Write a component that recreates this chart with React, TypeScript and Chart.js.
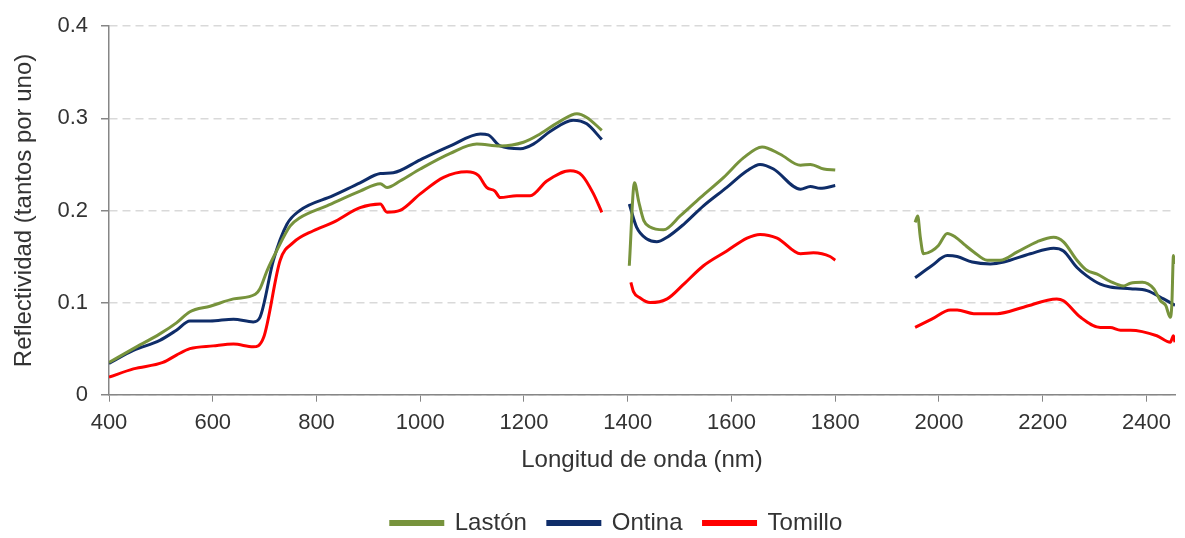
import React, { useEffect, useRef } from 'react';
import { Chart, registerables } from 'chart.js';

Chart.register(...registerables);

// Wavelength (nm) and reflectance values; null breaks the line (absorption bands removed)
const lastonNm = [400, 447, 498, 530, 556, 595, 640, 682, 691, 705, 723, 749, 768, 820, 884, 923, 936, 961, 1000, 1058, 1109, 1154, 1199, 1231, 1270, 1302, 1321, 1350,
  1375,
  1403, 1413, 1421, 1431, 1443, 1469, 1501, 1540, 1585, 1623, 1659, 1694, 1733, 1752, 1778, 1800,
  1875,
  1954, 1959, 1964, 1970, 1986, 1999, 2016, 2032, 2051, 2067, 2093, 2118, 2151, 2189, 2221, 2240, 2266, 2285, 2305, 2330, 2356, 2369, 2392, 2414, 2427, 2437, 2446, 2449, 2452, 2455];
const lastonR = [0.035, 0.050, 0.066, 0.078, 0.090, 0.096, 0.104, 0.109, 0.115, 0.135, 0.156, 0.183, 0.192, 0.205, 0.221, 0.229, 0.225, 0.232, 0.245, 0.262, 0.272, 0.270, 0.274, 0.283, 0.297, 0.305, 0.301, 0.287,
  null,
  0.140, 0.230, 0.210, 0.189, 0.182, 0.179, 0.194, 0.214, 0.236, 0.257, 0.269, 0.261, 0.249, 0.250, 0.245, 0.244,
  null,
  0.187, 0.194, 0.171, 0.153, 0.156, 0.162, 0.175, 0.171, 0.162, 0.155, 0.146, 0.146, 0.155, 0.166, 0.171, 0.166, 0.146, 0.135, 0.131, 0.123, 0.118, 0.121, 0.122, 0.115, 0.102, 0.097, 0.084, 0.099, 0.151, 0.142];

const ontinaNm = [400, 447, 498, 530, 556, 595, 640, 678, 691, 717, 743, 768, 832, 884, 923, 948, 1000, 1058, 1116, 1131, 1154, 1193, 1218, 1251, 1295, 1321, 1350,
  1375,
  1403, 1417, 1437, 1456, 1476, 1508, 1546, 1591, 1630, 1655, 1681, 1733, 1752, 1771, 1800,
  1875,
  1954, 1986, 2016, 2035, 2064, 2099, 2125, 2176, 2221, 2240, 2266, 2285, 2311, 2330, 2369, 2401, 2433, 2455];
const ontinaR = [0.034, 0.048, 0.059, 0.070, 0.080, 0.080, 0.082, 0.079, 0.084, 0.146, 0.185, 0.200, 0.216, 0.230, 0.240, 0.241, 0.255, 0.270, 0.283, 0.282, 0.270, 0.267, 0.272, 0.286, 0.298, 0.294, 0.277,
  null,
  0.207, 0.182, 0.169, 0.166, 0.171, 0.185, 0.205, 0.225, 0.243, 0.250, 0.245, 0.223, 0.226, 0.224, 0.227,
  null,
  0.127, 0.140, 0.151, 0.150, 0.144, 0.142, 0.144, 0.153, 0.159, 0.156, 0.138, 0.129, 0.120, 0.117, 0.115, 0.113, 0.104, 0.097];

const tomilloNm = [400, 447, 504, 530, 556, 601, 640, 678, 698, 730, 755, 794, 832, 884, 923, 936, 961, 1000, 1045, 1090, 1112, 1128, 1144, 1154, 1186, 1212, 1244, 1289, 1312, 1334, 1350,
  1375,
  1406, 1411, 1424, 1443, 1476, 1508, 1546, 1591, 1630, 1655, 1688, 1733, 1758, 1790, 1800,
  1875,
  1954, 1986, 2022, 2035, 2067, 2112, 2163, 2227, 2240, 2273, 2311, 2330, 2350, 2369, 2420, 2446, 2452, 2455];
const tomilloR = [0.019, 0.028, 0.035, 0.043, 0.050, 0.053, 0.055, 0.052, 0.062, 0.146, 0.165, 0.178, 0.187, 0.203, 0.207, 0.198, 0.200, 0.218, 0.236, 0.242, 0.238, 0.225, 0.221, 0.214, 0.216, 0.216, 0.232, 0.243, 0.238, 0.218, 0.198,
  null,
  0.122, 0.112, 0.105, 0.100, 0.104, 0.120, 0.140, 0.156, 0.170, 0.174, 0.170, 0.153, 0.154, 0.150, 0.146,
  null,
  0.073, 0.082, 0.092, 0.092, 0.088, 0.088, 0.095, 0.104, 0.102, 0.084, 0.073, 0.073, 0.070, 0.070, 0.064, 0.057, 0.064, 0.057];

const seriesNames = ['Lastón', 'Ontina', 'Tomillo'];
const xTickValues = [400, 600, 800, 1000, 1200, 1400, 1600, 1800, 2000, 2200, 2400];
const yTickValues = [0, 0.1, 0.2, 0.3, 0.4];

const COLORS = ['#77933C', '#0F2D69', '#FF0000'];
const FONT = "'Liberation Sans', Arial, sans-serif";
const TEXT = '#333333';

function toPoints(nm: number[], r: (number | null)[]) {
  return nm.map((x, i) => ({ x, y: r[i] }));
}

const legendShift = {
  id: 'legendShift',
  afterLayout(chart: any) {
    const lg = chart.legend;
    if (lg) {
      lg.left += 29;
      lg.right += 29;
    }
  },
};

export default function App() {
  const ref = useRef<HTMLCanvasElement | null>(null);
  useEffect(() => {
    if (!ref.current) return;
    const sets = [toPoints(lastonNm, lastonR), toPoints(ontinaNm, ontinaR), toPoints(tomilloNm, tomilloR)];
    const chart = new Chart(ref.current, {
      type: 'line',
      data: {
        datasets: sets.map((d, i) => ({
          label: seriesNames[i],
          data: d as any,
          borderColor: COLORS[i],
          backgroundColor: COLORS[i],
          borderWidth: 3,
          pointRadius: 0,
          cubicInterpolationMode: 'monotone' as const,
          spanGaps: false,
          fill: false,
        })),
      },
      plugins: [legendShift],
      options: {
        animation: false,
        responsive: true,
        maintainAspectRatio: false,
        layout: { padding: { left: 0, right: 10, top: 25, bottom: -7 } },
        font: { family: FONT },
        plugins: {
          tooltip: { enabled: false },
          legend: {
            position: 'bottom',
            labels: {
              boxWidth: 52,
              boxHeight: 3,
              padding: 21,
              color: TEXT,
              font: { family: FONT, size: 24 },
            },
          },
        },
        scales: {
          x: {
            type: 'linear',
            min: 400,
            max: 2455,
            afterBuildTicks: (s: any) => { s.ticks = xTickValues.map((v) => ({ value: v })); },
            ticks: {
              color: TEXT,
              font: { family: FONT, size: 22 },
              padding: 8.5,
              maxRotation: 0,
              autoSkip: false,
              callback: (v: any) => String(v),
            },
            grid: { drawOnChartArea: false, drawTicks: true, tickLength: 7, tickColor: '#868686', color: '#868686' },
            border: { display: true, color: '#868686', width: 1.5 },
            title: {
              display: true,
              text: 'Longitud de onda (nm)',
              color: TEXT,
              font: { family: FONT, size: 24 },
              padding: { top: 0.5, bottom: 15.6 },
            },
          },
          y: {
            type: 'linear',
            min: 0,
            max: 0.4,
            afterBuildTicks: (s: any) => { s.ticks = yTickValues.map((v) => ({ value: v })); },
            afterFit: (s: any) => { s.width = 109; },
            ticks: {
              color: TEXT,
              font: { family: FONT, size: 22 },
              padding: 13,
              callback: (v: any) => (v === 0 ? '0' : Number(v).toFixed(1)),
            },
            grid: { drawOnChartArea: true, drawTicks: true, tickLength: 8, color: '#D9D9D9', tickColor: '#868686', lineWidth: 1.5 },
            border: { display: true, color: '#868686', width: 1.5, dash: [8, 5] },
            title: {
              display: true,
              text: 'Reflectividad (tantos por uno)',
              color: TEXT,
              font: { family: FONT, size: 24 },
              padding: { top: 9.6, bottom: 0 },
            },
          },
        },
      },
    });
    return () => chart.destroy();
  }, []);
  return (
    <div style={{ position: 'absolute', left: 0, top: 0, width: 1185, height: 538, background: '#fff' }}>
      <canvas ref={ref} />
    </div>
  );
}
